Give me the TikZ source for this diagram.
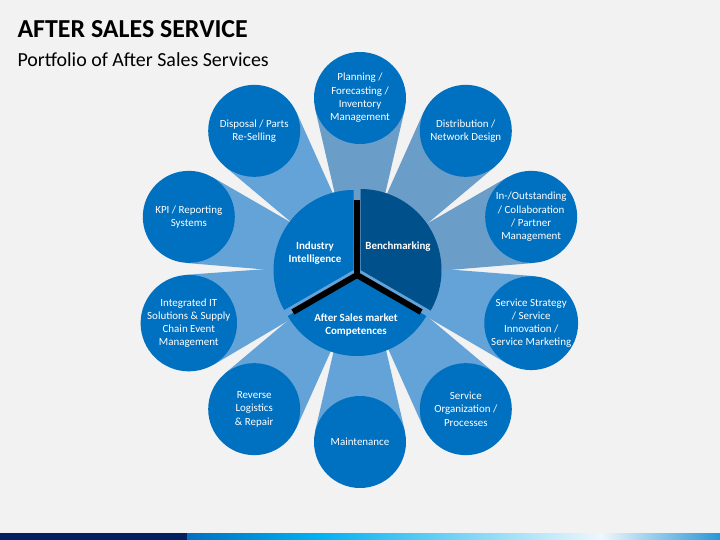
\documentclass[tikz,border=0pt]{standalone}
\usepackage{fontspec}
\setmainfont{Carlito}
\usetikzlibrary{calc}
\definecolor{bgGray}{RGB}{242,242,242}
\definecolor{itemBlue}{RGB}{0,112,192}
\definecolor{benchBlue}{RGB}{0,80,140}
\definecolor{beamBlue}{RGB}{100,163,215}
\definecolor{beamGray}{RGB}{106,157,200}
\definecolor{barNavy}{RGB}{0,32,96}
\definecolor{barCyan}{RGB}{0,176,240}
\definecolor{barPale}{RGB}{238,247,252}
\definecolor{barBlue}{RGB}{40,150,215}
\pgfdeclarelayer{backdrop}
\pgfdeclarelayer{beams}
\pgfsetlayers{backdrop,beams,main}
\tikzset{
  item/.style = {circle, fill=itemBlue, text=white, minimum size=92bp, inner sep=0pt,
  align=center, font=\fontsize{11}{13.3}\selectfont},
  core/.style = {text=white, align=center, font=\bfseries\fontsize{11}{13.3}\selectfont},
  divider/.style = {line width=6bp, black}
}

\begin{document}
\begin{tikzpicture}[x=1bp, y=-1bp]
\begin{pgfonlayer}{backdrop}
\fill[bgGray] (0,0) rectangle (720,540);
\end{pgfonlayer}
\useasboundingbox (0,0) rectangle (720,540);

\node[anchor=west, font=\bfseries\fontsize{26}{31}\selectfont] (title) at (14,29) {AFTER SALES SERVICE};
\node[anchor=west, font=\fontsize{20}{24}\selectfont] (subtitle) at (14,60) {Portfolio of After Sales Services};

% outer ring of services
\foreach \txt [count=\k from 0] in {
  {Planning /\\Forecasting /\\Inventory\\Management},
  {Distribution /\\Network Design},
  {In-/Outstanding\\/ Collaboration\\/ Partner\\Management},
  {Service Strategy\\/ Service\\Innovation /\\Service Marketing},
  {Service\\Organization /\\Processes},
  {Maintenance},
  {Reverse\\Logistics\\\& Repair},
  {Integrated IT\\Solutions \& Supply\\Chain Event\\Management},
  {KPI / Reporting\\Systems},
  {Disposal / Parts\\Re-Selling}}{
  \pgfmathsetmacro\a{90-36*\k}
  \node[item] (svc\k) at ({360+180*cos(\a)},{270-172*sin(\a)}) {\txt};
  \coordinate (apex\k) at ({360-32*cos(\a)},{270+32*sin(\a)});
}

% beams towards the centre
\begin{pgfonlayer}{beams}
\foreach \k in {0,...,9}{
  \ifnum\k<3 \def\bc{beamGray}\else\def\bc{beamBlue}\fi
  \fill[\bc] (apex\k) -- (tangent cs:node=svc\k,point={(apex\k)},solution=1)
    -- (svc\k.center) -- (tangent cs:node=svc\k,point={(apex\k)},solution=2) -- cycle;
}
\end{pgfonlayer}

% centre pie
\fill[itemBlue] (353.5,270) -- ++(-90:80) arc[start angle=-90, end angle=-210, radius=80] -- cycle;
\fill[benchBlue] (360.5,270) -- ++(30:81) arc[start angle=30, end angle=-90, radius=81] -- cycle;
\fill[itemBlue] (357,276) -- ++(150:80) arc[start angle=150, end angle=30, radius=80] -- cycle;

\coordinate (hub) at (357,275);
\coordinate (hubN) at ($(hub)+(-90:75)$);
\coordinate (hubW) at ($(hub)+(150:74)$);
\coordinate (hubE) at ($(hub)+(30:74)$);
\draw[divider] (hub) -- (hubN);
\draw[divider] (hub) -- (hubW);
\draw[divider] (hub) -- (hubE);

\node[core] (intel) at (315,253) {Industry\\Intelligence};
\node[core] (bench) at (398,247) {Benchmarking};
\node[core] (competences) at (356,325) {After Sales market\\Competences};

% footer bar
\fill[barNavy] (0,533) rectangle (187,540);
\shade[left color=itemBlue, right color=barCyan] (187,533) rectangle (317,540);
\shade[left color=barCyan, right color=barPale] (317,533) rectangle (601,540);
\shade[left color=barPale, right color=barBlue] (601,533) rectangle (720,540);
\end{tikzpicture}
\end{document}
